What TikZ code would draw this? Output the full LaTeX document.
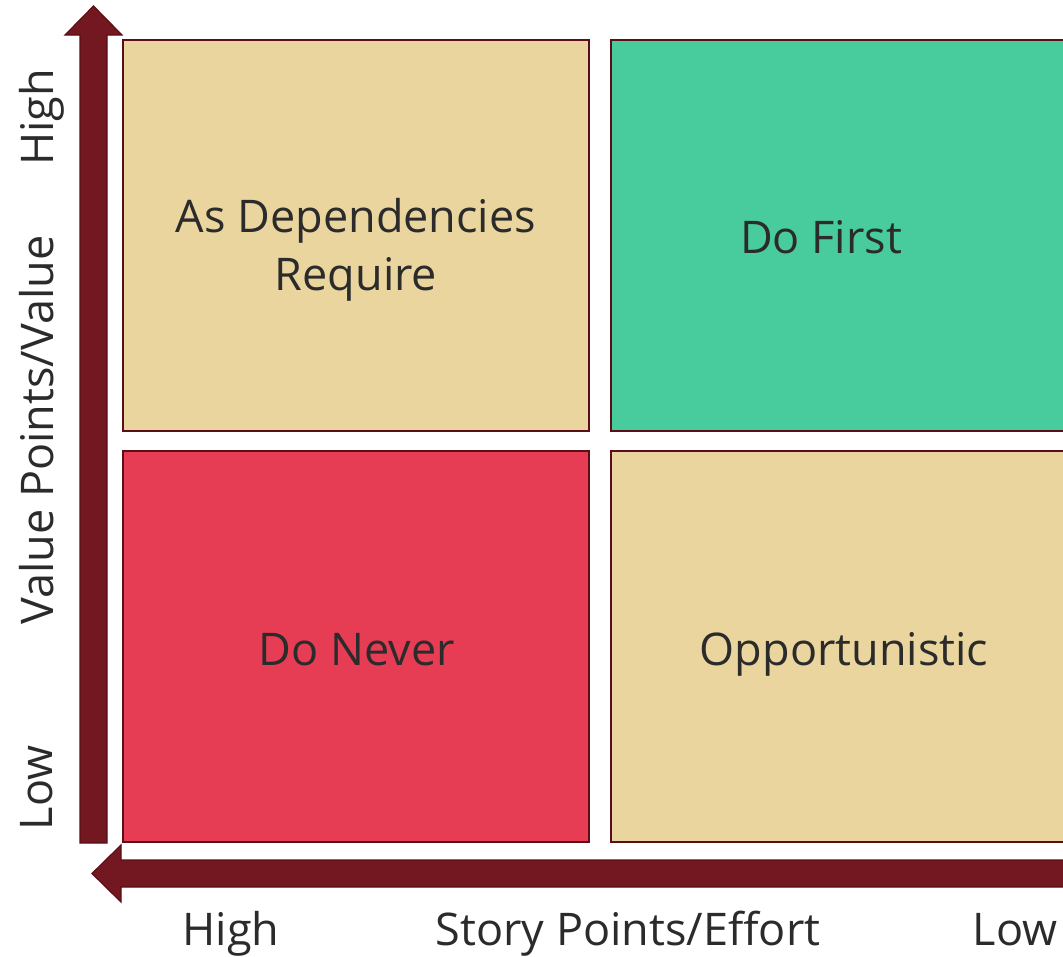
\documentclass[tikz,border=0pt]{standalone}
\usepackage{fontspec}
\setmainfont{Open Sans}

\definecolor{axisred}{HTML}{731820}
\definecolor{edgered}{HTML}{5A0E15}
\definecolor{sand}{HTML}{EAD59E}
\definecolor{mint}{HTML}{48CC9E}
\definecolor{rose}{HTML}{E63D55}
\definecolor{ink}{HTML}{2B2B2B}

\tikzset{
    quad/.style={draw=edgered, line width=2pt, inner sep=0pt,
        minimum width=466pt, minimum height=391pt},
    quadtext/.style={font=\fontsize{45}{56}\selectfont, text=ink, align=center, inner sep=0pt},
    axislabel/.style={font=\fontsize{45}{56}\selectfont, text=ink, inner sep=0pt, anchor=base},
    blockarrow/.style={fill=axisred, draw=edgered, line width=1.2pt, line join=miter}
}

\begin{document}
\begin{tikzpicture}[x=1pt, y=-1pt]
    \clip (0,0) rectangle (1063,956);

    % Quadrants
    \node[quad, fill=sand] (deps)  at (356,235.5) {};
    \node[quad, fill=mint] (first) at (844,235.5) {};
    \node[quad, fill=rose] (never) at (356,646.5) {};
    \node[quad, fill=sand] (oppo)  at (844,646.5) {};

    % Quadrant captions
    \node[quadtext, anchor=base] (depstext) at (356,232) {As Dependencies};
    \node[quadtext, anchor=base] (reqtext) at (356,290) {Require};
    \node[quadtext, anchor=base] (firsttext) at (821,253) {Do First};
    \node[quadtext, anchor=base] (nevertext) at (357,665) {Do Never};
    \node[quadtext, anchor=base] (oppotext) at (844,665) {Opportunistic};

    % Value axis (up)
    \draw[blockarrow] (80,843) -- (80,35) -- (65,35) -- (93.5,6) -- (122,35)
        -- (107,35) -- (107,843) -- cycle;

    % Effort axis (left)
    \draw[blockarrow] (1080,860) -- (121,860) -- (121,845) -- (92,873.5)
        -- (121,902) -- (121,887) -- (1080,887) -- cycle;

    % Axis labels
    \node[axislabel, rotate=90] (vhigh) at (53,117.5) {High};
    \node[axislabel, rotate=90] (vname) at (53,430) {Value Points/Value};
    \node[axislabel, rotate=90] (vlow)  at (52,788) {Low};

    \node[axislabel] (ehigh) at (231,945) {High};
    \node[axislabel] (ename) at (628,945) {Story Points/Effort};
    \node[axislabel] (elow)  at (1015,945) {Low};
\end{tikzpicture}
\end{document}
